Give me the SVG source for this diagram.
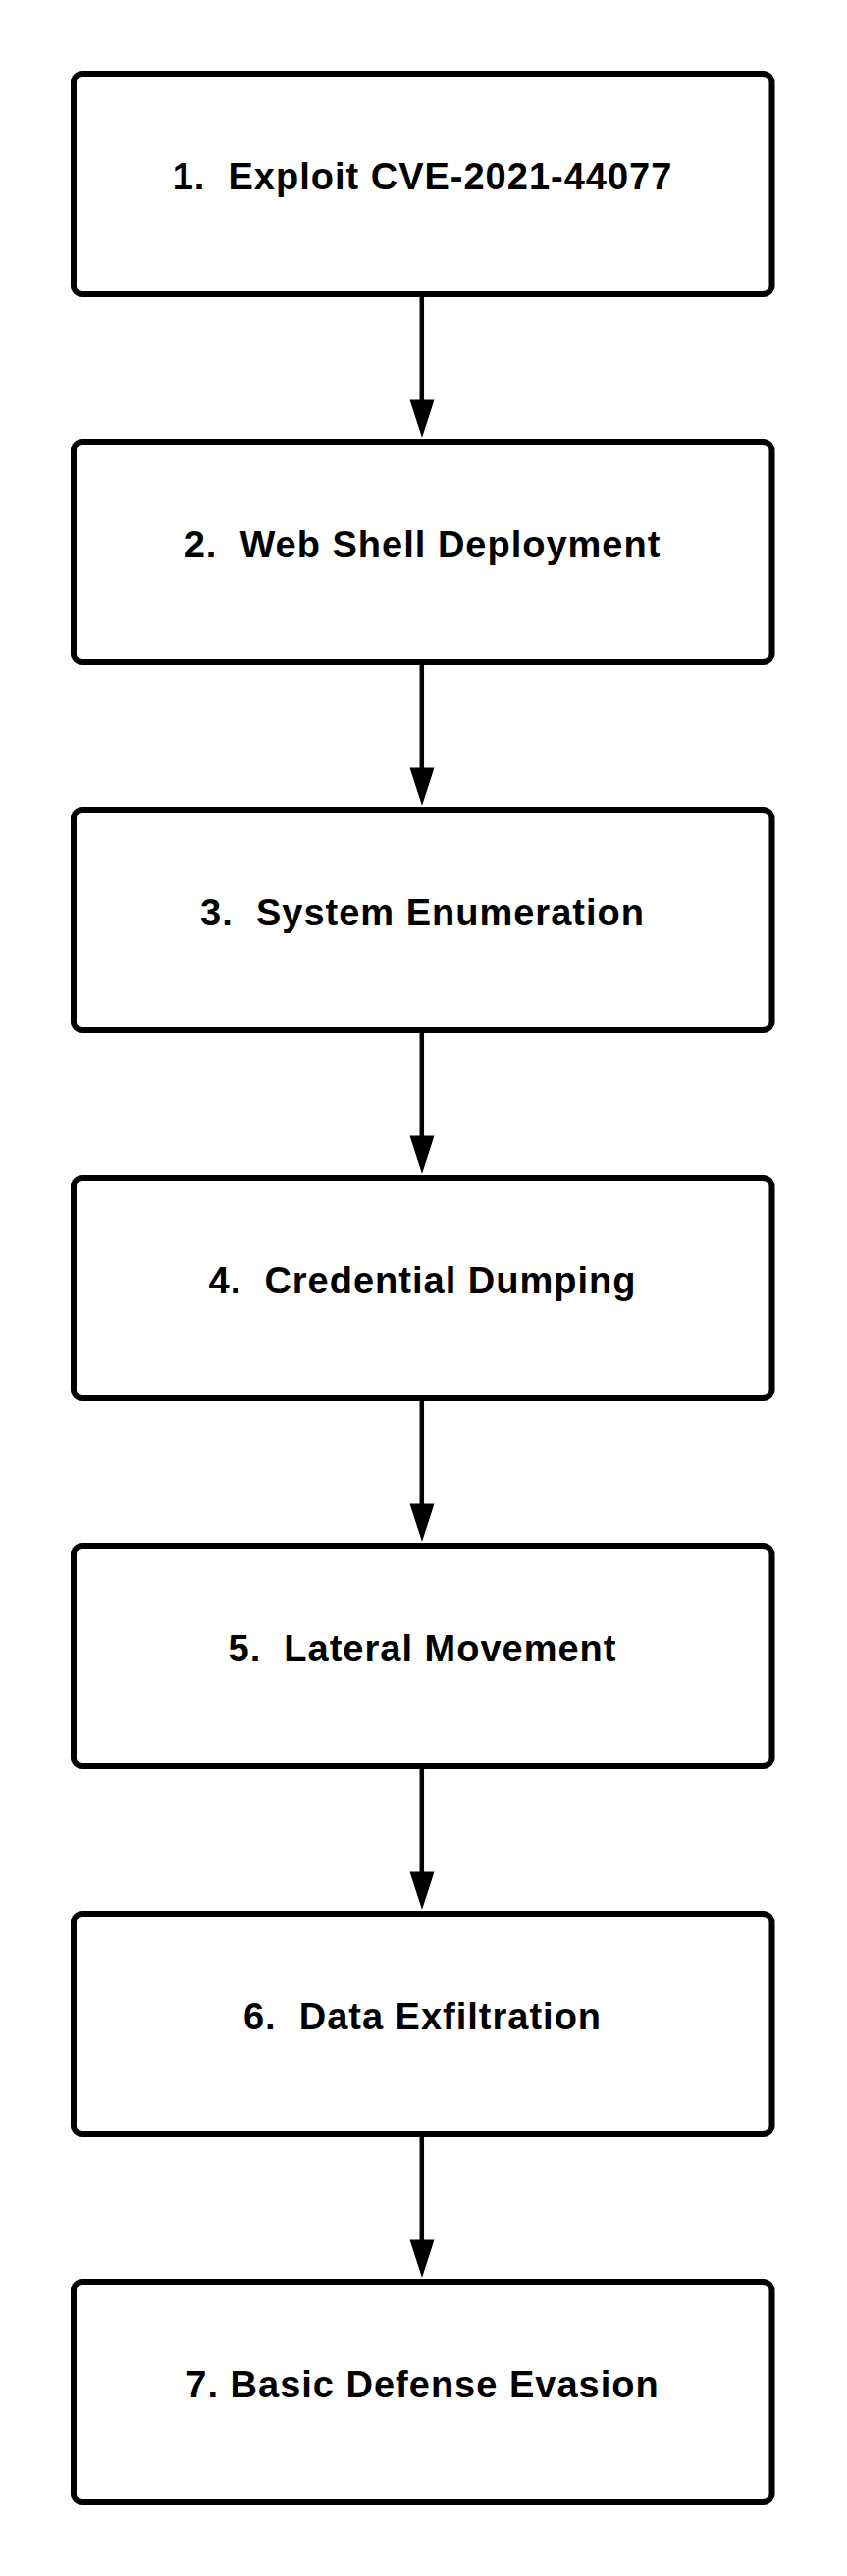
<svg xmlns="http://www.w3.org/2000/svg" width="863" height="2625" viewBox="0 0 863 2625">
<style>
.box{fill:#fff;stroke:#000;stroke-width:6}
.lbl{font-family:"Liberation Sans",Arial,sans-serif;font-weight:bold;font-size:38px;letter-spacing:1px;fill:#000;text-anchor:middle;white-space:pre}
.edge{stroke:#000;stroke-width:4.5;fill:none}
.head{fill:#000}
</style>
<rect width="863" height="2625" fill="#fff"/>
<g id="connectors">
<g id="e1"><line class="edge" x1="429.8" y1="300" x2="429.8" y2="410"/><polygon class="head" points="417.5,407.5 442.5,407.5 430,446"/></g>
<g id="e2"><line class="edge" x1="429.8" y1="675" x2="429.8" y2="785"/><polygon class="head" points="417.5,782.5 442.5,782.5 430,821"/></g>
<g id="e3"><line class="edge" x1="429.8" y1="1050" x2="429.8" y2="1160"/><polygon class="head" points="417.5,1157.5 442.5,1157.5 430,1196"/></g>
<g id="e4"><line class="edge" x1="429.8" y1="1425" x2="429.8" y2="1535"/><polygon class="head" points="417.5,1532.5 442.5,1532.5 430,1571"/></g>
<g id="e5"><line class="edge" x1="429.8" y1="1800" x2="429.8" y2="1910"/><polygon class="head" points="417.5,1907.5 442.5,1907.5 430,1946"/></g>
<g id="e6"><line class="edge" x1="429.8" y1="2175" x2="429.8" y2="2285"/><polygon class="head" points="417.5,2282.5 442.5,2282.5 430,2321"/></g>
</g>
<g id="n1"><rect class="box" x="75" y="75" width="711.5" height="225" rx="9"/><text class="lbl" x="430.5" y="193">1.  Exploit CVE-2021-44077</text></g>
<g id="n2"><rect class="box" x="75" y="450" width="711.5" height="225" rx="9"/><text class="lbl" x="430.5" y="568">2.  Web Shell Deployment</text></g>
<g id="n3"><rect class="box" x="75" y="825" width="711.5" height="225" rx="9"/><text class="lbl" x="430.5" y="943">3.  System Enumeration</text></g>
<g id="n4"><rect class="box" x="75" y="1200" width="711.5" height="225" rx="9"/><text class="lbl" x="430.5" y="1318">4.  Credential Dumping</text></g>
<g id="n5"><rect class="box" x="75" y="1575" width="711.5" height="225" rx="9"/><text class="lbl" x="430.5" y="1693">5.  Lateral Movement</text></g>
<g id="n6"><rect class="box" x="75" y="1950" width="711.5" height="225" rx="9"/><text class="lbl" x="430.5" y="2068">6.  Data Exfiltration</text></g>
<g id="n7"><rect class="box" x="75" y="2325" width="711.5" height="225" rx="9"/><text class="lbl" x="430.5" y="2443">7. Basic Defense Evasion</text></g>
</svg>
